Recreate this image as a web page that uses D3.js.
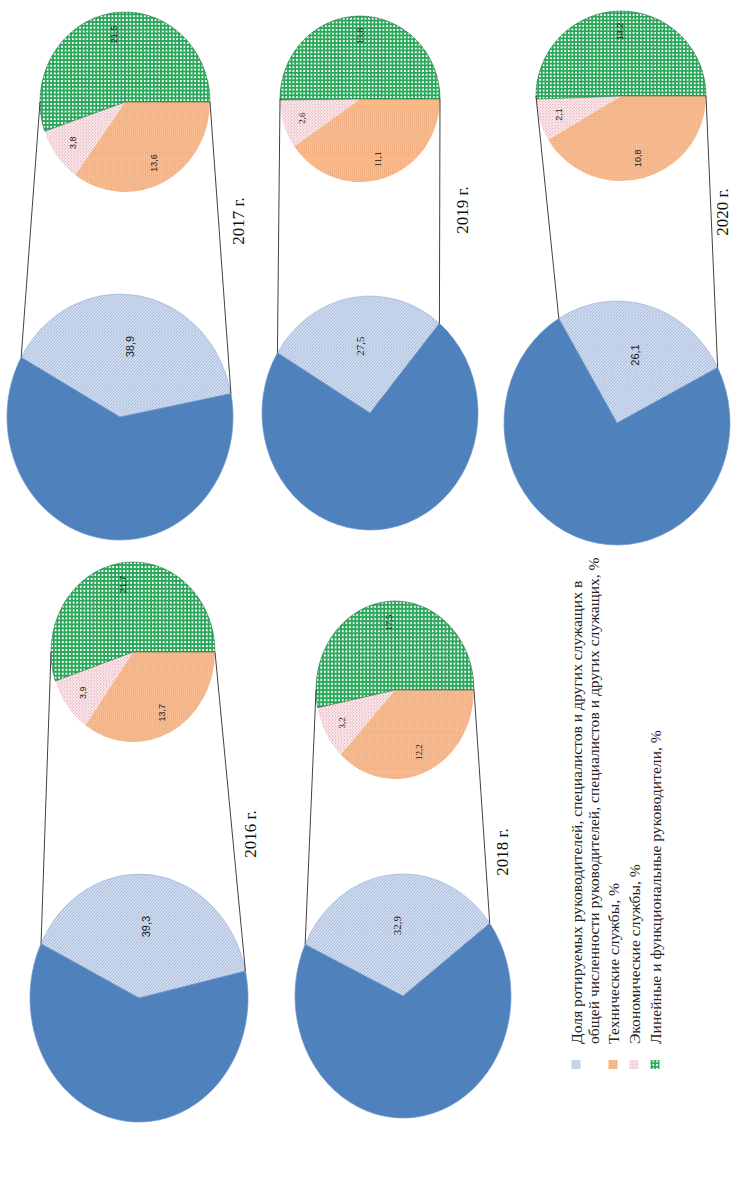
<!DOCTYPE html>
<html>
<head>
<meta charset="utf-8">
<script src="https://cdn.jsdelivr.net/npm/d3@7"></script>
<style>
  html, body { margin: 0; padding: 0; background: #ffffff; }
  svg { display: block; }
</style>
</head>
<body>
<script>
// Pie-of-pie charts: share of rotated staff and its breakdown by service, 2016–2020
const years = ["2016 г.", "2017 г.", "2018 г.", "2019 г.", "2020 г."];
const rotatedShare = [39.3, 38.9, 32.9, 27.5, 26.1];
const technical = [13.7, 13.6, 12.2, 11.1, 10.8];
const economic = [3.9, 3.8, 3.2, 2.6, 2.1];
const lineFunctional = [21.7, 21.5, 17.5, 13.8, 13.2];
const legendLabels = [
  ["Доля ротируемых руководителей, специалистов и других служащих в",
   "общей численности руководителей, специалистов и других служащих, %"],
  ["Технические службы, %"],
  ["Экономические службы, %"],
  ["Линейные и функциональные руководители, %"]
];

// Page is laid out sideways: everything is drawn in a frame turned 90° counter-clockwise.
const W = 733, H = 1182;

// Panel layout in page pixels: main pie [cx, cy, rx, ry], secondary pie, first-slice angle, year caption
const panels = [
  { big: [139, 998, 109, 124], small: [133, 652, 82, 90], start: 26, cap: [250, 834], font: "'Liberation Sans', Arial, sans-serif" },
  { big: [120, 417, 113, 123], small: [125, 102, 85, 90], start: 29, cap: [238, 221], font: "'Liberation Sans', Arial, sans-serif" },
  { big: [403, 996, 108, 122], small: [395, 690, 79, 89], start: 25, cap: [502, 852], font: "'Liberation Serif', 'Times New Roman', serif" },
  { big: [370, 413, 108, 117], small: [360, 99, 80, 83], start: 31, cap: [462, 210], font: "'Liberation Serif', 'Times New Roman', serif" },
  { big: [617, 423, 113, 122], small: [621, 96, 85, 85], start: 59, cap: [722, 212], font: "'Liberation Sans', Arial, sans-serif" }
];

const colors = { main: "#4f81bd", mainEdge: "#6f97cb" };
const fmt = v => d3.format(".1f")(v).replace(".", ",");
const rad = d => d * Math.PI / 180;

const svg = d3.select("body").append("svg")
  .attr("width", W).attr("height", H).attr("viewBox", `0 0 ${W} ${H}`);

// ---- fill patterns ----
const defs = svg.append("defs");

const hatch = defs.append("pattern").attr("id", "pHatch")
  .attr("patternUnits", "userSpaceOnUse").attr("width", 3).attr("height", 3);
hatch.append("rect").attr("width", 3).attr("height", 3).attr("fill", "#d8e2f1");
hatch.append("path").attr("d", "M0,0 L3,3 M-1,2 L1,4 M2,-1 L4,1")
  .attr("stroke", "#8fa9d4").attr("stroke-width", 0.75);

const orange = defs.append("pattern").attr("id", "pOrange")
  .attr("patternUnits", "userSpaceOnUse").attr("width", 2).attr("height", 2);
orange.append("rect").attr("width", 2).attr("height", 2).attr("fill", "#f8bc90");
orange.append("rect").attr("width", 1).attr("height", 1).attr("fill", "#efa878");

const pink = defs.append("pattern").attr("id", "pPink")
  .attr("patternUnits", "userSpaceOnUse").attr("width", 3).attr("height", 3);
pink.append("rect").attr("width", 3).attr("height", 3).attr("fill", "#fbedef");
pink.append("circle").attr("cx", 0.75).attr("cy", 0.75).attr("r", 0.6).attr("fill", "#d47c8c");
pink.append("circle").attr("cx", 2.25).attr("cy", 2.25).attr("r", 0.6).attr("fill", "#e3a3ae");

const green = defs.append("pattern").attr("id", "pGreen")
  .attr("patternUnits", "userSpaceOnUse").attr("width", 3.6).attr("height", 3.6);
green.append("rect").attr("width", 3.6).attr("height", 3.6).attr("fill", "#2aa85a");
green.append("rect").attr("x", 0.9).attr("y", 0.9).attr("width", 1.8).attr("height", 1.8).attr("fill", "#ffffff");

const subFills = ["url(#pOrange)", "url(#pPink)", "url(#pGreen)"];

// Turned frame: local (u, v) -> page (v, H - u)
const g = svg.append("g").attr("transform", `translate(0,${H}) rotate(-90)`);
const toLocal = (x, y) => [H - y, x];

const arc = d3.arc().innerRadius(0);

panels.forEach((p, i) => {
  const [bu, bv] = toLocal(p.big[0], p.big[1]);
  const bRv = p.big[2], bRu = p.big[3];          // radius along v and along u
  const [su, sv] = toLocal(p.small[0], p.small[1]);
  const sRv = p.small[2], sRu = p.small[3];

  // main pie: rotated share vs the rest
  const mainPie = d3.pie().sort(null).value(d => d)
    .startAngle(rad(p.start)).endAngle(rad(p.start) + 2 * Math.PI);
  const mainArcs = mainPie([rotatedShare[i], 100 - rotatedShare[i]]);

  const bg = g.append("g")
    .attr("transform", `translate(${bu},${bv}) scale(${bRu / bRv},1)`);
  bg.selectAll("path").data(mainArcs).join("path")
    .attr("d", d => arc.outerRadius(bRv)(d))
    .attr("fill", (d, k) => k === 0 ? "url(#pHatch)" : colors.main)
    .attr("stroke", (d, k) => k === 0 ? "#9fb6da" : colors.mainEdge)
    .attr("stroke-width", 0.7)
    .attr("vector-effect", "non-scaling-stroke");

  // secondary pie: breakdown of the rotated share, starting at 6 o'clock
  const subVals = [technical[i], economic[i], lineFunctional[i]];
  const subPie = d3.pie().sort(null).value(d => d)
    .startAngle(Math.PI).endAngle(3 * Math.PI);
  const subArcs = subPie(subVals);
  const sg = g.append("g")
    .attr("transform", `translate(${su},${sv}) scale(${sRu / sRv},1)`);
  sg.selectAll("path").data(subArcs).join("path")
    .attr("d", d => arc.outerRadius(sRv)(d))
    .attr("fill", (d, k) => subFills[k])
    .attr("stroke", (d, k) => k === 2 ? "#1d6b3a" : "none")
    .attr("stroke-width", 0.6)
    .attr("vector-effect", "non-scaling-stroke");

  // connector lines from the split slice edges to the secondary pie
  const a0 = mainArcs[0].startAngle, a1 = mainArcs[0].endAngle;
  const edge = a => [bu + Math.sin(a) * bRu, bv - Math.cos(a) * bRv];
  const lines = [
    [edge(a0), [su, sv - sRv]],
    [edge(a1), [su, sv + sRv]]
  ];
  g.selectAll(null).data(lines).join("line")
    .attr("x1", d => d[0][0]).attr("y1", d => d[0][1])
    .attr("x2", d => d[1][0]).attr("y2", d => d[1][1])
    .attr("stroke", "#2b2b2b").attr("stroke-width", 0.9);

  // data labels
  const mMid = (a0 + a1) / 2;
  g.append("text")
    .attr("x", bu + Math.sin(mMid) * bRu * 0.58)
    .attr("y", bv - Math.cos(mMid) * bRv * 0.58)
    .attr("text-anchor", "middle").attr("dominant-baseline", "central")
    .attr("font-family", p.font).attr("font-size", 11).attr("fill", "#1a1a1a")
    .text(fmt(rotatedShare[i]));

  g.selectAll(null).data(subArcs).join("text")
    .attr("x", d => su + Math.sin((d.startAngle + d.endAngle) / 2) * sRu * 0.76)
    .attr("y", d => sv - Math.cos((d.startAngle + d.endAngle) / 2) * sRv * 0.76)
    .attr("text-anchor", "middle").attr("dominant-baseline", "central")
    .attr("font-family", p.font).attr("font-size", 9).attr("fill", "#1a1a1a")
    .text(d => fmt(d.data));

  // year caption
  const [cu, cv] = toLocal(p.cap[0], p.cap[1]);
  g.append("text")
    .attr("x", cu).attr("y", cv)
    .attr("text-anchor", "middle").attr("dominant-baseline", "central")
    .attr("font-family", "'Liberation Serif', 'Times New Roman', serif")
    .attr("font-size", 17).attr("fill", "#111")
    .text(years[i]);
});

// ---- legend ----
const legendFills = ["url(#pHatch)", "url(#pOrange)", "url(#pPink)", "url(#pGreen)"];
const legendRows = [576, 613, 634, 655];   // page x of each entry's first line
const [lu0] = toLocal(0, 1044);
const [iu0] = toLocal(0, 1069);
const legend = g.append("g")
  .attr("font-family", "'Liberation Serif', 'Times New Roman', serif")
  .attr("font-size", 15.6).attr("fill", "#222");
legendLabels.forEach((lines, k) => {
  const v = legendRows[k];
  legend.append("rect")
    .attr("x", iu0).attr("y", v - 4.5).attr("width", 9).attr("height", 9)
    .attr("fill", legendFills[k]);
  lines.forEach((t, j) => {
    legend.append("text")
      .attr("x", lu0).attr("y", v + j * 17)
      .attr("dominant-baseline", "central")
      .text(t);
  });
});
</script>
</body>
</html>
